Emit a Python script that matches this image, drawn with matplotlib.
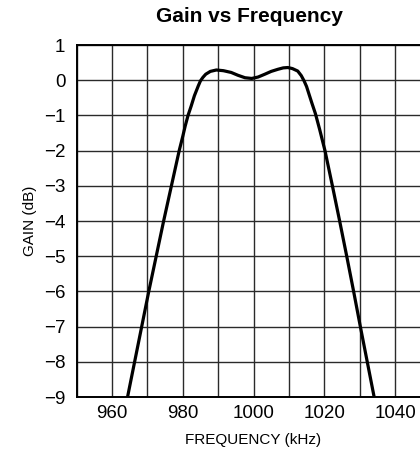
import matplotlib
matplotlib.use("Agg")
import matplotlib.pyplot as plt
from matplotlib.ticker import MultipleLocator

# gain curve
freq_khz = [964.4, 966.4, 968.4, 970.4, 972.5, 974.6, 976.8, 979.0, 980.0,
            980.7, 981.5, 982.4, 983.3, 984.4, 985.0, 985.7, 986.5, 987.8,
            989.5, 991.5, 993.7, 995.6, 997.6, 999.5, 1001.3, 1003.2,
            1005.0, 1006.9, 1008.4, 1009.7, 1011.0, 1012.5, 1013.5, 1014.3,
            1015.0, 1015.7, 1016.5, 1017.5, 1018.7, 1020.2, 1022.3, 1024.35,
            1026.35, 1028.3, 1030.2, 1032.15, 1034.1]
gain_db = [-9, -8, -7, -6, -5, -4, -3, -2, -1.6,
           -1.3, -1.0, -0.73, -0.44, -0.16, -0.02, 0.08, 0.17, 0.25,
           0.29, 0.27, 0.22, 0.14, 0.07, 0.05, 0.09, 0.17,
           0.25, 0.31, 0.35, 0.36, 0.33, 0.26, 0.13, -0.02,
           -0.18, -0.4, -0.65, -0.95, -1.4, -2, -3, -4,
           -5, -6, -7, -8, -9]

x_ticks = [960, 980, 1000, 1020, 1040]
y_ticks = [1, 0, -1, -2, -3, -4, -5, -6, -7, -8, -9]

plt.rcParams['font.family'] = ['Liberation Sans', 'DejaVu Sans']

fig = plt.figure(figsize=(4.2, 4.58), dpi=100)
# axes runs past the right edge, as in the reference
ax = fig.add_axes([76.6 / 420, 61 / 458, 353.8 / 420, 352 / 458])

ax.plot(freq_khz, gain_db, color='black', linewidth=2.3, zorder=3)

ax.set_xlim(950, 1050)
ax.set_ylim(-9, 1)
ax.set_xticks(x_ticks)
ax.xaxis.set_minor_locator(MultipleLocator(10))
ax.set_yticks(y_ticks)
ax.grid(True, which='both', color='#2a2a2a', linewidth=1.0)
ax.tick_params(which='both', length=0)
ax.tick_params(axis='y', pad=8, labelsize=13.5)
ax.tick_params(axis='x', pad=6, labelsize=13.5)
for s in ax.spines.values():
    s.set_linewidth(1.4)

ax.set_xlabel('FREQUENCY (kHz)', fontsize=11, labelpad=8)
ax.set_ylabel('GAIN (dB)', fontsize=11, labelpad=5)
fig.text(249 / 420, 1 - 16 / 458, 'Gain vs Frequency', ha='center', va='center',
         fontsize=15, fontweight='bold')

fig.savefig('out.png', dpi=100)
